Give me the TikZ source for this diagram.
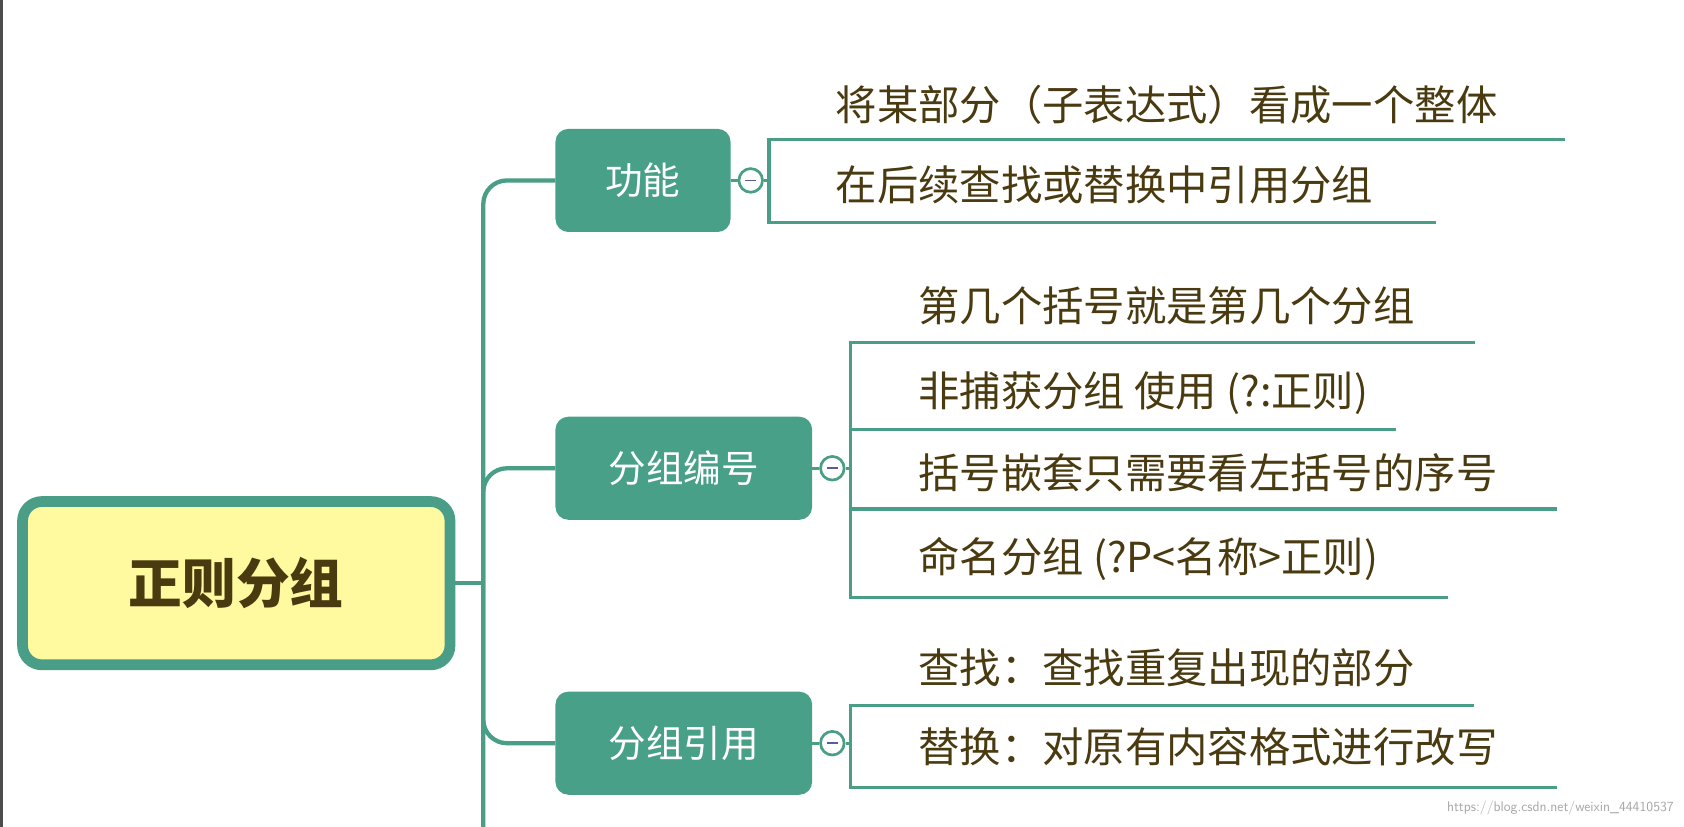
\documentclass[tikz,border=0pt]{standalone}
\usepackage{fontspec}
\newfontfamily\cjk{Noto Sans CJK SC}
\begin{document}
\begin{tikzpicture}[x=1pt,y=-1pt,
  ln/.style={draw=tealc,line width=4pt},
  br/.style={rounded corners=12pt,fill=tealn,text=white,font=\cjk\fontsize{35}{40}\selectfont,minimum height=96pt,anchor=west},
  lf/.style={anchor=west,text=txtc,font=\cjk\fontsize{38.5}{42}\selectfont,inner sep=0pt},
  cb/.style={circle,draw=tealc,line width=2.5pt,fill=white,minimum size=22pt,inner sep=0pt}]
\definecolor{tealc}{HTML}{4A9E87}
\definecolor{tealn}{HTML}{48A088}
\definecolor{txtc}{HTML}{4A3A10}
\definecolor{yel}{HTML}{FFF9A0}
\useasboundingbox (0,0) rectangle (1568,770);
\fill[white] (0,0) rectangle (1568,770);
\draw[line width=3pt,black!70] (1,0)--(1,770);
% root
\node[draw=tealc,line width=10pt,fill=yel,rounded corners=18pt,minimum width=398pt,minimum height=152pt,text=txtc,font=\cjk\bfseries\fontsize{50}{56}\selectfont] (root) at (220,543) {正则分组};
\coordinate (t) at (450,543);
\coordinate (tb) at (450,770);
\draw[ln] (root.east)--(t);
% branches
\node[br,minimum width=163pt] (b1) at (517,168) {功能};
\node[br,minimum width=239pt] (b2) at (517,436) {分组编号};
\node[br,minimum width=239pt] (b3) at (517,692) {分组引用};
\draw[ln,rounded corners=22pt] (tb)--(450,168)--(b1.west);
\draw[ln,rounded corners=22pt] (t)--(450,436)--(b2.west);
\draw[ln,rounded corners=22pt] (t)--(450,692)--(b3.west);
% collapse buttons
\node[cb] (c1) at (699,168) {};
\node[cb] (c2) at (775,436) {};
\node[cb] (c3) at (775,692) {};
\foreach \c in {c1,c2,c3}{\draw[line width=1.5pt,blue!30!gray] ([xshift=-5pt]\c.center)--([xshift=5pt]\c.center);}
\draw[ln,line width=3pt] (b1.east)--(c1.west);
\draw[ln,line width=3pt] (b2.east)--(c2.west);
\draw[ln,line width=3pt] (b3.east)--(c3.west);
% group 1
\coordinate (v1a) at (716,130); \coordinate (v1b) at (716,207);
\draw[ln,line width=3pt] (c1.east)--(716,168);
\draw[ln,line width=3pt] (1457,130)--(v1a)--(v1b)--(1337,207);
\node[lf] (l11) at (778,98) {将某部分（子表达式）看成一个整体};
\node[lf] (l12) at (778,172) {在后续查找或替换中引用分组};
% group 2
\draw[ln,line width=3pt] (c2.east)--(792,436);
\draw[ln,line width=3pt] (1373,319)--(792,319)--(792,556)--(1348,556);
\draw[ln,line width=3pt] (792,400)--(1300,400);
\draw[ln,line width=3pt] (792,474)--(1450,474);
\node[lf] (l21) at (855,285) {第几个括号就是第几个分组};
\node[lf] (l22) at (855,366) {非捕获分组 使用 (?:正则)};
\node[lf] (l23) at (855,440) {括号嵌套只需要看左括号的序号};
\node[lf] (l24) at (855,520) {命名分组 (?P<名称>正则)};
% group 3
\draw[ln,line width=3pt] (c3.east)--(792,692);
\draw[ln,line width=3pt] (1372,657)--(792,657)--(792,733)--(1450,733);
\node[lf] (l31) at (855,622) {查找：查找重复出现的部分};
\node[lf] (l32) at (855,695) {替换：对原有内容格式进行改写};
\node[anchor=east,text=gray!70,font=\sffamily\fontsize{13}{15}\selectfont] (wm) at (1562,752) {https://blog.csdn.net/weixin\_44410537};
\end{tikzpicture}
\end{document}
